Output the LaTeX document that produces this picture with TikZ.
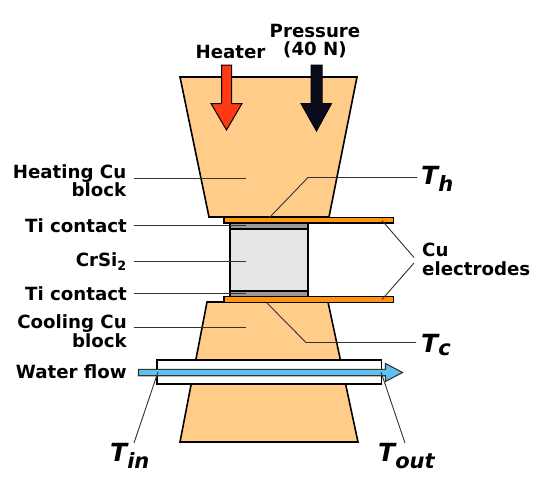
\documentclass[tikz,border=0pt]{standalone}
\usepackage{fontspec}
\setmainfont{DejaVu Sans}
\definecolor{cublock}{HTML}{FFCC8A}
\definecolor{elec}{HTML}{FF9411}
\definecolor{tigrey}{HTML}{999999}
\definecolor{crsi}{HTML}{E6E6E6}
\definecolor{water}{HTML}{5CC2F2}
\definecolor{heat}{HTML}{FF3A12}
\definecolor{press}{HTML}{0B0B1E}
\tikzset{
  x=1pt,y=-1pt,
  solid part/.style={draw=black,line width=1.6pt,line join=miter},
  thin part/.style={draw=black,line width=1.1pt,line join=miter},
  leader/.style={draw=black!80,line width=0.9pt},
  lab/.style={font=\bfseries\fontsize{18.2}{18.5}\selectfont,inner sep=0pt},
  tlab/.style={font=\bfseries\itshape\fontsize{25}{25}\selectfont,inner sep=0pt},
}
\newcommand{\tsub}[1]{\textsubscript{\fontsize{21}{21}\selectfont #1}}
\begin{document}
\begin{tikzpicture}
\useasboundingbox (0,0) rectangle (550,480);
% blocks
\path[solid part,fill=cublock] (180,77) -- (357,77) -- (329,217) -- (209,217) -- cycle;
\path[solid part,fill=cublock] (207,302) -- (328,302) -- (358,442) -- (180,442) -- cycle;
% sample stack
\path[solid part,fill=tigrey] (230,223) rectangle (308,229);
\path[solid part,fill=tigrey] (230,291) rectangle (308,297);
\path[solid part,fill=crsi] (230,229) rectangle (308,291);
\path[thin part,fill=elec] (224,217.2) rectangle (393.5,223);
\path[thin part,fill=elec] (224,296.7) rectangle (393.5,302.5);
% water tube
\path[solid part,fill=white] (157,360) rectangle (381.5,384);
\path[draw=black!80,line width=1.1pt,fill=water] (138.5,369.3) -- (385.5,369.3) -- (385.5,363.5) -- (402.5,372.5) -- (385.5,381.5) -- (385.5,375.7) -- (138.5,375.7) -- cycle;
% top arrows
\path[draw=black,line width=1pt,fill=heat] (221.5,65) -- (231.5,65) -- (231.5,103.5) -- (242,103.5) -- (226.5,130) -- (211,103.5) -- (221.5,103.5) -- cycle;
\path[draw=black,line width=1pt,fill=press] (311,65) -- (322,65) -- (322,103.5) -- (331.5,103.5) -- (316.5,131) -- (301,103.5) -- (311,103.5) -- cycle;
% labels
\node[lab] (heater) at (230.5,52) {Heater};
\node[lab,align=center] (pressure) at (315,41) {Pressure\\(40 N)};
\node[lab,anchor=east,align=right] (hcu) at (126.5,180.5) {Heating Cu\\block};
\node[lab,anchor=east] (ti1) at (127,225.5) {Ti contact};
\node[lab,anchor=east] (crsi) at (127,261.5) {CrSi\textsubscript{2}};
\node[lab,anchor=east] (ti2) at (127,293.5) {Ti contact};
\node[lab,anchor=east,align=right] (ccu) at (127,331) {Cooling Cu\\block};
\node[lab,anchor=east] (wf) at (127,372) {Water flow};
\node[lab,anchor=west,align=left] (cuel) at (422,259.5) {Cu\\electrodes};
\node[tlab,anchor=west] (th) at (421,179) {T\tsub{h}};
\node[tlab,anchor=west] (tc) at (421,345) {T\tsub{c}};
\node[tlab,anchor=west] (tin) at (110,456) {T\tsub{in}};
\node[tlab,anchor=west] (tout) at (378,456) {T\tsub{out}};
% leaders
\coordinate (a1) at (246,178.5);
\coordinate (a2) at (246,225.5);
\coordinate (a3) at (246,261.5);
\coordinate (a4) at (246,293.5);
\coordinate (a5) at (246,327);
\draw[leader] (133.5,178.5) -- (a1);
\draw[leader] (133.5,225.5) -- (a2);
\draw[leader] (133.5,261.5) -- (a3);
\draw[leader] (133.5,293.5) -- (a4);
\draw[leader] (133.5,327) -- (a5);
\coordinate (hj) at (269,218);
\coordinate (hk) at (308,177.5);
\coordinate (hl) at (417,177.5);
\draw[leader] (hj) -- (hk) -- (hl);
\coordinate (cj) at (267,303);
\coordinate (ck) at (306,342.5);
\coordinate (cl) at (416,342.5);
\draw[leader] (cj) -- (ck) -- (cl);
\coordinate (e1) at (382,220.5);
\coordinate (e1b) at (414,257.5);
\coordinate (e2) at (382,299.5);
\coordinate (e2b) at (414,263);
\draw[leader] (e1) -- (e1b);
\draw[leader] (e2) -- (e2b);
\coordinate (wi) at (158,372);
\coordinate (wo) at (381,372);
\coordinate (wib) at (134,443);
\coordinate (wob) at (405,443);
\draw[leader] (wi) -- (wib);
\draw[leader] (wo) -- (wob);
\end{tikzpicture}
\end{document}
